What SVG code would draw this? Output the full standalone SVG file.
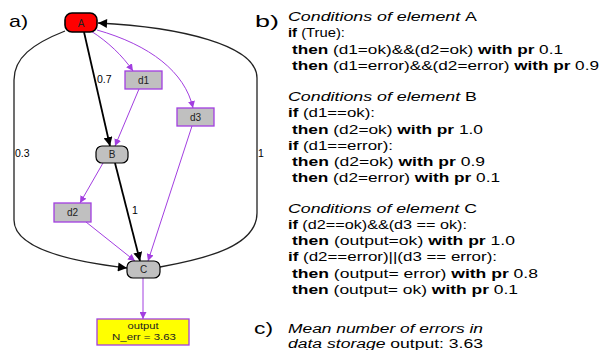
<svg xmlns="http://www.w3.org/2000/svg" width="602" height="350" viewBox="0 0 602 350">
<style>
text{font-family:"Liberation Sans",Arial,sans-serif;fill:#000}
.nt{font-size:10px;text-anchor:middle;fill:#222}
.ot{font-size:8.5px;text-anchor:middle;fill:#222}
.el{font-size:10.5px}
.pl{font-size:17px}
.ct{font-size:12.5px}
.it{font-style:italic}
.up{font-style:normal}
.b{font-weight:bold}
.blk{fill:none;stroke:#000;stroke-width:1.8}
.loop{fill:none;stroke:#222;stroke-width:1.3}
.pur{fill:none;stroke:#a23ee0;stroke-width:1}
.rect{fill:#c0c0c0;stroke:#a23ee0;stroke-width:1.3}
.rnd{fill:#c0c0c0;stroke:#000;stroke-width:1.2}
</style>
<defs>
<marker id="ab" viewBox="0 0 10 10" refX="10" refY="5" markerWidth="5" markerHeight="5" orient="auto" markerUnits="strokeWidth">
<path d="M0,0 L10,5 L0,10 z" fill="#000"/>
</marker>
<marker id="al" viewBox="0 0 10 10" refX="10" refY="5" markerWidth="11" markerHeight="9" orient="auto" markerUnits="userSpaceOnUse">
<path d="M0,0 L10,5 L0,10 z" fill="#000"/>
</marker>
<marker id="ap" viewBox="0 0 10 10" refX="10" refY="5" markerWidth="7" markerHeight="7" orient="auto" markerUnits="userSpaceOnUse">
<path d="M0,0 L10,5 L0,10 z" fill="#a23ee0"/>
</marker>
</defs>

<g id="connectors">
<path class="loop" d="M65,31 C32,44 14,58 14,80 L14,220 C14,250 75,262 127,268" marker-end="url(#al)"/>
<path class="loop" d="M160,267 C210,258 257,245 257,213 L257,78 C257,45 180,27 98,23" marker-end="url(#al)"/>
<path class="blk" d="M84,32 L110,146" marker-end="url(#ab)"/>
<path class="blk" d="M115,163 L140,261" marker-end="url(#ab)"/>
<path class="pur" d="M91,31 C108,42 122,55 133,71" marker-end="url(#ap)"/>
<path class="pur" d="M97,30 C150,45 185,72 193,108" marker-end="url(#ap)"/>
<path class="pur" d="M139,89 L115,146" marker-end="url(#ap)"/>
<path class="pur" d="M192,126 L148,261" marker-end="url(#ap)"/>
<path class="pur" d="M103,163 L80,203" marker-end="url(#ap)"/>
<path class="pur" d="M86,222 L135,261" marker-end="url(#ap)"/>
<path class="pur" d="M143,278 L143,319" marker-end="url(#ap)"/>
<text class="el" x="97" y="83">0.7</text>
<text class="el" x="15" y="157">0.3</text>
<text class="el" x="258" y="157">1</text>
<text class="el" x="132" y="214">1</text>
</g>

<g id="node-A">
<rect x="65" y="13" width="32" height="19" rx="7" fill="#ff0000" stroke="#000" stroke-width="1.6"/>
<text class="nt" x="81" y="26.5">A</text>
</g>
<g id="node-d1">
<rect class="rect" x="125" y="71" width="37" height="18"/>
<text class="nt" x="143.5" y="83.5">d1</text>
</g>
<g id="node-d3">
<rect class="rect" x="177" y="108" width="37" height="18"/>
<text class="nt" x="195.5" y="120.5">d3</text>
</g>
<g id="node-B">
<rect class="rnd" x="96" y="146" width="32" height="17" rx="6"/>
<text class="nt" x="112" y="158">B</text>
</g>
<g id="node-d2">
<rect class="rect" x="54" y="203" width="37" height="19"/>
<text class="nt" x="72.5" y="216">d2</text>
</g>
<g id="node-C">
<rect class="rnd" x="127" y="261" width="33" height="17" rx="6"/>
<text class="nt" x="143.5" y="273">C</text>
</g>
<g id="node-output">
<rect x="97" y="319" width="92" height="26" fill="#ffff00" stroke="#a23ee0" stroke-width="1.3"/>
<text class="ot" x="143" y="329" textLength="31" lengthAdjust="spacingAndGlyphs">output</text>
<text class="ot" x="144" y="339.5" textLength="64" lengthAdjust="spacingAndGlyphs">N_err = 3.63</text>
</g>

<g id="panel-labels">
<text class="pl" x="9" y="27" textLength="19" lengthAdjust="spacingAndGlyphs">a)</text>
<text class="pl" x="255" y="27" textLength="24" lengthAdjust="spacingAndGlyphs">b)</text>
<text class="pl" x="254" y="334" textLength="19" lengthAdjust="spacingAndGlyphs">c)</text>
</g>

<g id="conditions" class="ct">
<text class="it" x="288" y="21" textLength="189" lengthAdjust="spacingAndGlyphs">Conditions of element <tspan class="up">A</tspan></text>
<text x="288" y="37" textLength="57" lengthAdjust="spacingAndGlyphs"><tspan class="b">if</tspan> (True):</text>
<text x="292" y="54" textLength="271" lengthAdjust="spacingAndGlyphs"><tspan class="b">then</tspan> (d1=ok)&amp;&amp;(d2=ok) <tspan class="b">with pr</tspan> 0.1</text>
<text x="292" y="70" textLength="307" lengthAdjust="spacingAndGlyphs"><tspan class="b">then</tspan> (d1=error)&amp;&amp;(d2=error) <tspan class="b">with pr</tspan> 0.9</text>

<text class="it" x="288" y="101" textLength="189" lengthAdjust="spacingAndGlyphs">Conditions of element <tspan class="up">B</tspan></text>
<text x="288" y="117" textLength="87" lengthAdjust="spacingAndGlyphs"><tspan class="b">if</tspan> (d1==ok):</text>
<text x="292" y="134" textLength="191" lengthAdjust="spacingAndGlyphs"><tspan class="b">then</tspan> (d2=ok) <tspan class="b">with pr</tspan> 1.0</text>
<text x="288" y="150" textLength="105" lengthAdjust="spacingAndGlyphs"><tspan class="b">if</tspan> (d1==error):</text>
<text x="292" y="166" textLength="193" lengthAdjust="spacingAndGlyphs"><tspan class="b">then</tspan> (d2=ok) <tspan class="b">with pr</tspan> 0.9</text>
<text x="292" y="182" textLength="208" lengthAdjust="spacingAndGlyphs"><tspan class="b">then</tspan> (d2=error) <tspan class="b">with pr</tspan> 0.1</text>

<text class="it" x="288" y="213" textLength="189" lengthAdjust="spacingAndGlyphs">Conditions of element <tspan class="up">C</tspan></text>
<text x="288" y="229" textLength="179" lengthAdjust="spacingAndGlyphs"><tspan class="b">if</tspan> (d2==ok)&amp;&amp;(d3 == ok):</text>
<text x="292" y="245" textLength="223" lengthAdjust="spacingAndGlyphs"><tspan class="b">then</tspan> (output=ok) <tspan class="b">with pr</tspan> 1.0</text>
<text x="288" y="261" textLength="209" lengthAdjust="spacingAndGlyphs"><tspan class="b">if</tspan> (d2==error)||(d3 == error):</text>
<text x="292" y="278" textLength="246" lengthAdjust="spacingAndGlyphs"><tspan class="b">then</tspan> (output= error) <tspan class="b">with pr</tspan> 0.8</text>
<text x="292" y="294" textLength="226" lengthAdjust="spacingAndGlyphs"><tspan class="b">then</tspan> (output= ok) <tspan class="b">with pr</tspan> 0.1</text>

<text class="it" x="288" y="333" textLength="195" lengthAdjust="spacingAndGlyphs">Mean number of errors in</text>
<text x="288" y="348" textLength="195" lengthAdjust="spacingAndGlyphs"><tspan class="it">data storage</tspan> output: 3.63</text>
</g>
</svg>
